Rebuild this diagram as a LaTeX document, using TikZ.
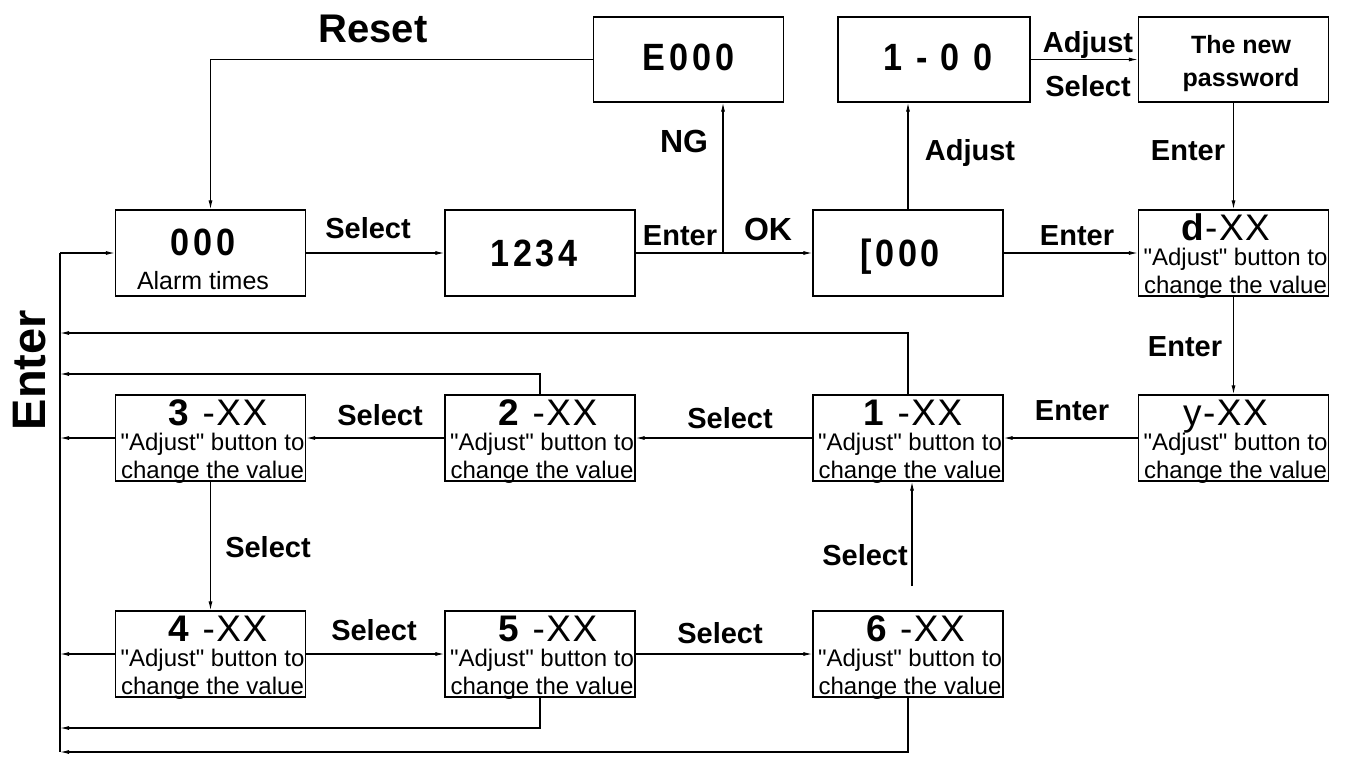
\documentclass[tikz,border=0pt]{standalone}
\usepackage{fontspec}
\setmainfont{Liberation Sans}
\newfontfamily\segfont[LetterSpace=10,FakeStretch=0.9]{Liberation Sans}
\newfontfamily\xxfont[LetterSpace=4]{Liberation Sans}
\newfontfamily\descfont{Liberation Sans}
\usetikzlibrary{arrows.meta,calc}
\newcommand\xxtext[3]{%
  \node[xxt] (#1-t) at ($(#1.center)+(#3,-13)$) {#2};
  \node[desc] (#1-a) at ($(#1.center)+(2,12)$) {"Adjust" button to};
  \node[desc] (#1-b) at ($(#1.center)+(2,40)$) {change the value};
}
\begin{document}
\begin{tikzpicture}[x=1pt,y=-1pt,
  box/.style={draw, line width=1.3pt, minimum width=190pt, minimum height=86pt, inner sep=0pt},
  arr/.style={line width=1.1pt, -{Latex[length=9pt,width=4pt]}},
  ln/.style={line width=1.1pt},
  lbl/.style={anchor=base, inner sep=0pt, font=\bfseries\fontsize{29}{29}\selectfont},
  seg/.style={anchor=base, inner sep=0pt, font=\segfont\bfseries\fontsize{38}{38}\selectfont},
  xxt/.style={anchor=base, inner sep=0pt, font=\xxfont\fontsize{37}{37}\selectfont},
  desc/.style={anchor=base, inner sep=0pt, font=\descfont\fontsize{24}{24}\selectfont},
  txt/.style={anchor=base, inner sep=0pt, font=\fontsize{25}{25}\selectfont}
]
\useasboundingbox (0,0) rectangle (1349,756);
\fill[white] (0,0) rectangle (1349,756);

% boxes
\node[box] (alarm) at (210.5,253) {};
\node[box] (pw)    at (540,253) {};
\node[box] (cfg)   at (908,253) {};
\node[box] (dxx)   at (1233.5,253) {};
\node[box, minimum height=85pt] (e000)  at (688.5,59.5) {};
\node[box, minimum height=85pt, minimum width=192pt] (onezz) at (934,59.5) {};
\node[box, minimum height=85pt] (newpw) at (1233.5,59.5) {};
\node[box] (three) at (210.5,438) {};
\node[box] (two)   at (540,438) {};
\node[box] (one)   at (908,438) {};
\node[box] (yxx)   at (1233.5,438) {};
\node[box] (four)  at (210.5,654) {};
\node[box] (five)  at (540,654) {};
\node[box] (six)   at (908,654) {};

% box texts
\node[seg] (alarm-t) at ($(alarm.center)+(-7.5,2)$) {000};
\node[txt] (alarm-b) at ($(alarm.center)+(-7.5,36)$) {Alarm times};
\node[seg] (pw-t) at ($(pw.center)+(-6,13)$) {1234};
\node[seg] (cfg-t) at ($(cfg.center)+(-8,13)$) {[000};
\node[seg] (e000-t) at ($(e000.center)+(0,10.5)$) {E000};
\node[seg] (onezz-t) at ($(onezz.center)+(4,10.5)$) {1 - 0 0};
\node[anchor=base, inner sep=0pt, font=\bfseries\fontsize{25}{25}\selectfont] (newpw-a) at ($(newpw.center)+(7.5,-6.5)$) {The new};
\node[anchor=base, inner sep=0pt, font=\bfseries\fontsize{25}{25}\selectfont] (newpw-b) at ($(newpw.center)+(7.5,26.5)$) {password};
\xxtext{dxx}{\textbf{d}-XX}{-8}
\xxtext{yxx}{y-XX}{-8}
\xxtext{one}{\textbf{1} -XX}{5}
\xxtext{two}{\textbf{2} -XX}{8}
\xxtext{three}{\textbf{3} -XX}{7.5}
\xxtext{four}{\textbf{4} -XX}{7.5}
\xxtext{five}{\textbf{5} -XX}{8}
\xxtext{six}{\textbf{6} -XX}{7.5}

% coordinates
\coordinate (bTop) at (60,253);
\coordinate (bA) at (60,333);
\coordinate (bB) at (60,374);
\coordinate (bD) at (60,728);
\coordinate (bE) at (60,752);
\coordinate (jn) at (723,253);
\coordinate (s6) at (912,586);

% connectors
\draw[arr] (e000.west) -| (alarm.north);
\draw[arr] (alarm.east) -- (pw.west);
\draw[arr] (pw.east) -- (cfg.west);
\draw[arr] (jn) -- (jn |- e000.south);
\draw[arr] (cfg.north) -- (cfg.north |- onezz.south);
\draw[arr] (onezz.east) -- (newpw.west);
\draw[arr] (newpw.south) -- (dxx.north);
\draw[arr] (cfg.east) -- (dxx.west);
\draw[arr] (dxx.south) -- (yxx.north);
\draw[arr] (yxx.west) -- (one.east);
\draw[arr] (one.west) -- (two.east);
\draw[arr] (two.west) -- (three.east);
\draw[arr] (three.south) -- (four.north);
\draw[arr] (four.east) -- (five.west);
\draw[arr] (five.east) -- (six.west);
\draw[arr] (s6) -- (s6 |- one.south);

% left bus
\draw[ln] (bTop) -- (bE);
\draw[arr] (bTop) -- (alarm.west);
\draw[arr] (one.north) |- (bA);
\draw[arr] (two.north) |- (bB);
\draw[arr] (three.west) -- (three.west -| bA);
\draw[arr] (four.west) -- (four.west -| bA);
\draw[arr] (five.south) |- (bD);
\draw[arr] (six.south) |- (bE);

% labels
\node[anchor=base, inner sep=0pt, font=\bfseries\fontsize{40}{40}\selectfont] (reset) at (373,42) {Reset};
\node[anchor=center, inner sep=0pt, rotate=90, font=\bfseries\fontsize{47}{47}\selectfont] (enterv) at (30,370) {Enter};
\node[lbl] (l1) at (368,238) {Select};
\node[lbl] (l2) at (680,245) {Enter};
\node[lbl, font=\bfseries\fontsize{32}{32}\selectfont] (l3) at (768,240) {OK};
\node[lbl, font=\bfseries\fontsize{32}{32}\selectfont] (l4) at (684,152) {NG};
\node[lbl] (l5) at (970,160) {Adjust};
\node[lbl] (l6) at (1088,52) {Adjust};
\node[lbl] (l7) at (1088,96) {Select};
\node[lbl] (l8) at (1188,160) {Enter};
\node[lbl] (l9) at (1077,245) {Enter};
\node[lbl] (l10) at (1185,356) {Enter};
\node[lbl] (l11) at (1072,420) {Enter};
\node[lbl] (l12) at (730,428) {Select};
\node[lbl] (l13) at (380,425) {Select};
\node[lbl] (l14) at (268,557) {Select};
\node[lbl] (l15) at (374,640) {Select};
\node[lbl] (l16) at (720,643) {Select};
\node[lbl] (l17) at (865,565) {Select};
\end{tikzpicture}
\end{document}
